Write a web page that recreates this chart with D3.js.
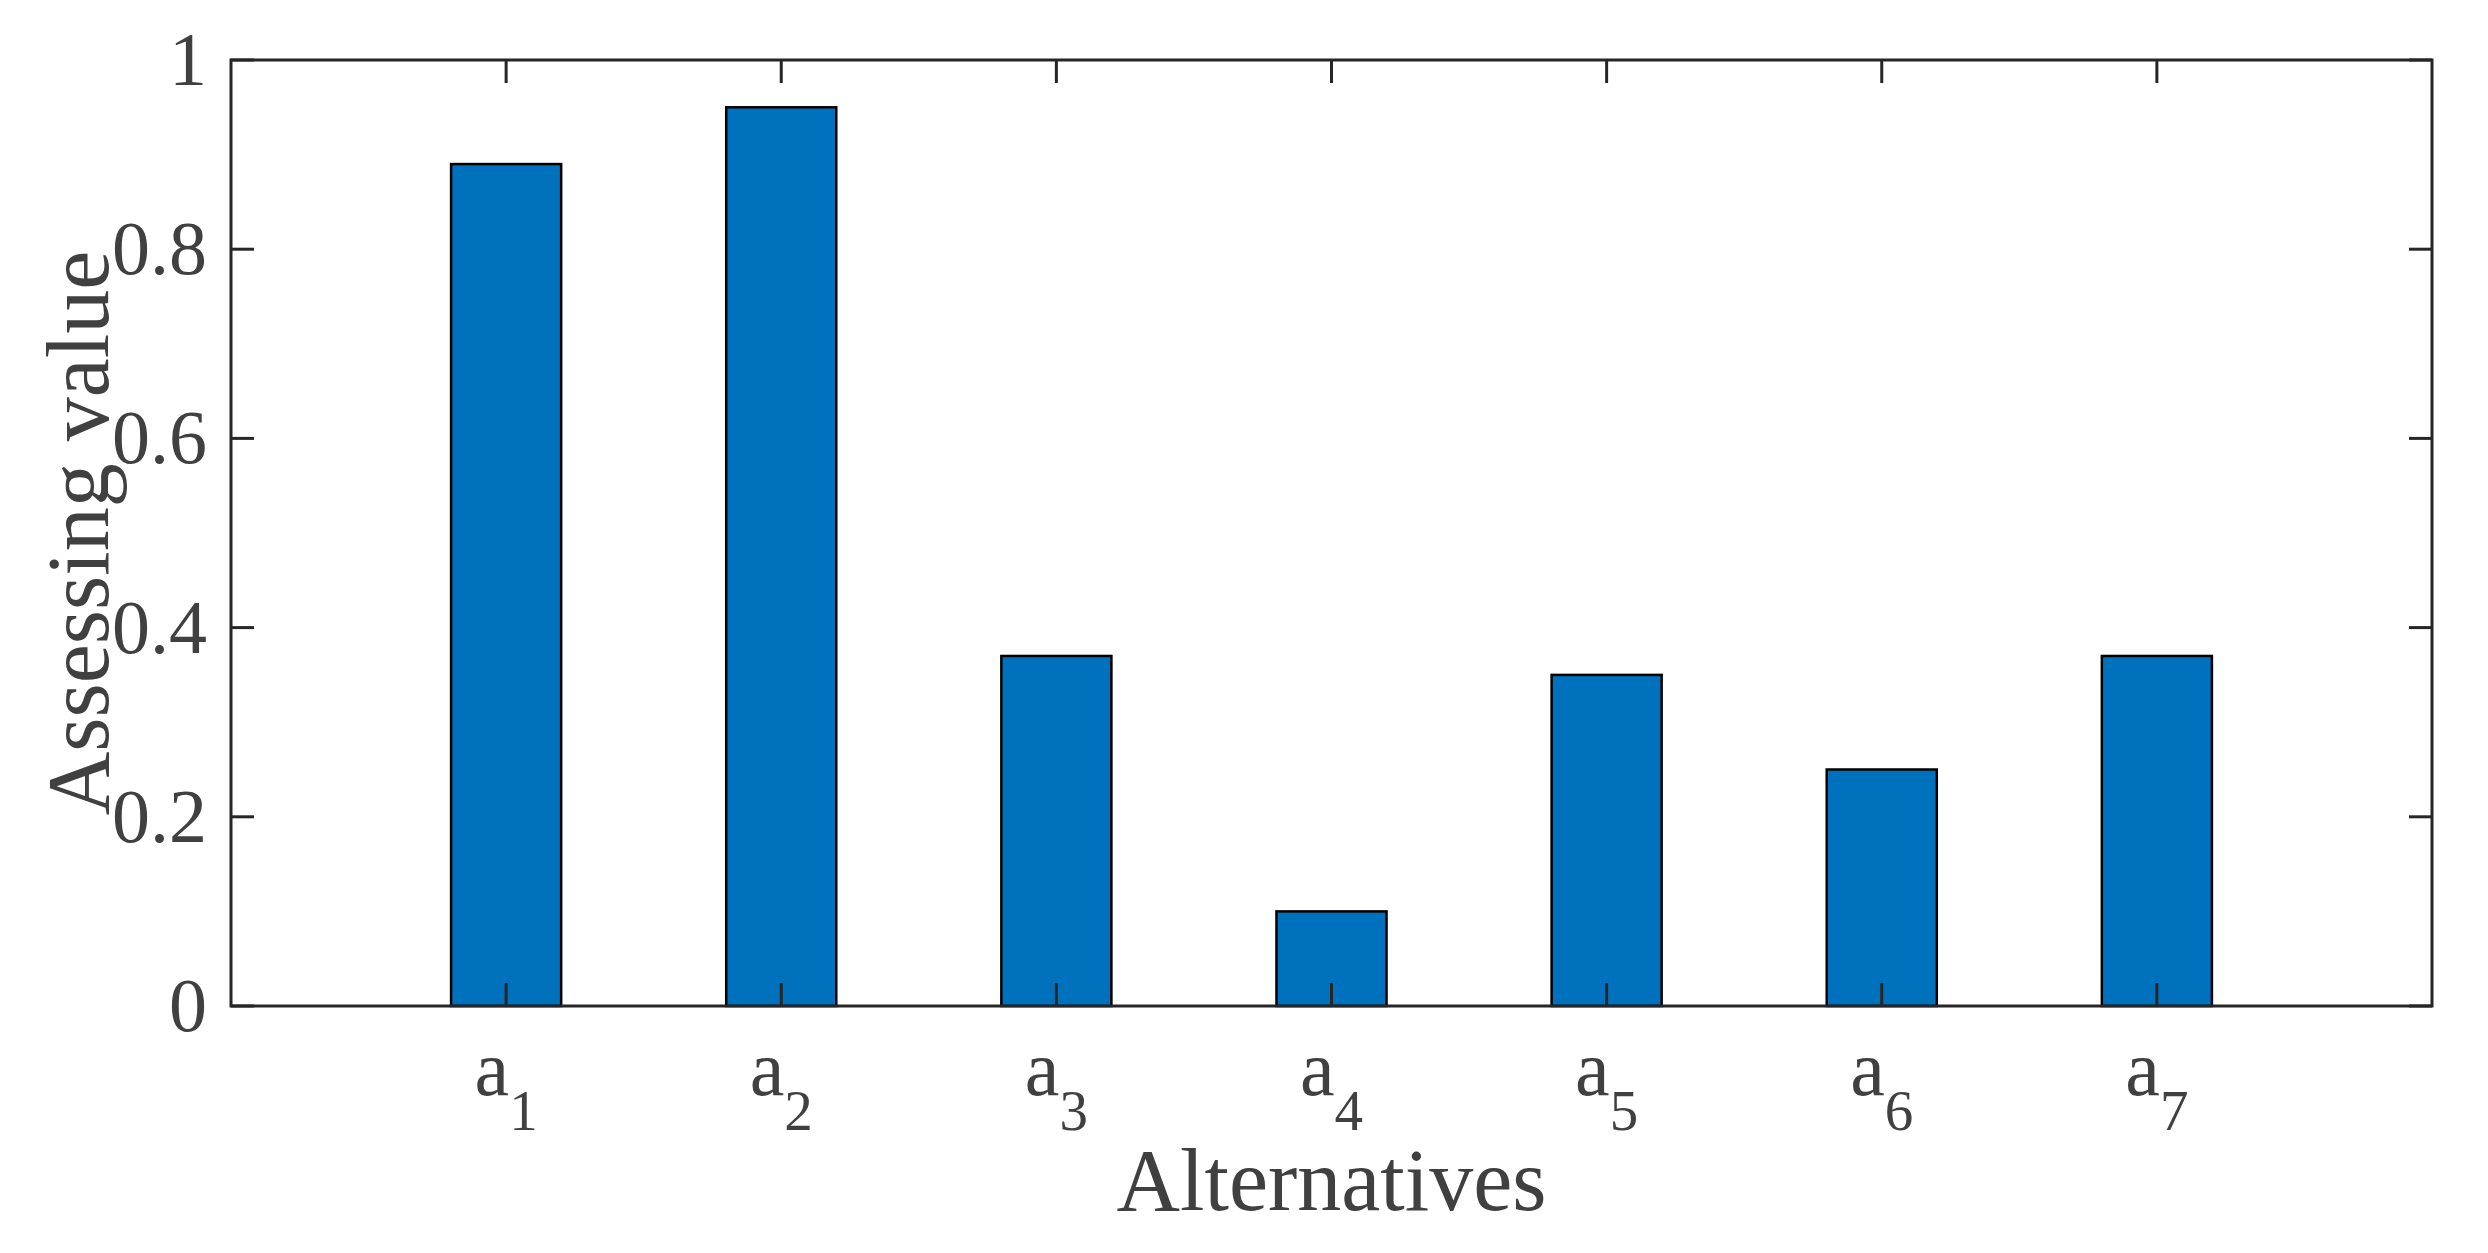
<!DOCTYPE html>
<html>
<head>
<meta charset="utf-8">
<script src="https://cdn.jsdelivr.net/npm/d3@7"></script>
<style>
  body { margin: 0; background: #fff; }
  text { font-family: "Liberation Serif", "Times New Roman", serif; fill: #404040; }
</style>
</head>
<body>
<div id="viz"></div>
<script>
const positions = [1, 2, 3, 4, 5, 6, 7];
const subscripts = ["1", "2", "3", "4", "5", "6", "7"];
const values = [0.89, 0.95, 0.37, 0.10, 0.35, 0.25, 0.37];
const yTicks = [0, 0.2, 0.4, 0.6, 0.8, 1];
const yTickLabels = ["0", "0.2", "0.4", "0.6", "0.8", "1"];

const W = 2488, H = 1253;
const margin = {top: 60, right: 56, bottom: 247, left: 231};
const width = W - margin.left - margin.right;
const height = H - margin.top - margin.bottom;

const svg = d3.select("#viz").append("svg")
  .attr("width", W)
  .attr("height", H);

const g = svg.append("g").attr("transform", `translate(${margin.left},${margin.top})`);

const x = d3.scaleLinear().domain([0, 8]).range([0, width]);
const y = d3.scaleLinear().domain([0, 1]).range([height, 0]);
const barW = x(0.4) - x(0);
const tickLen = 23;
const axisColor = "#262626";

// bars
g.selectAll("rect.bar")
  .data(values)
  .enter()
  .append("rect")
  .attr("class", "bar")
  .attr("x", (d, i) => x(positions[i]) - barW / 2)
  .attr("y", d => y(d))
  .attr("width", barW)
  .attr("height", d => y(0) - y(d))
  .attr("fill", "#0072BD")
  .attr("stroke", "#000")
  .attr("stroke-width", 2.5);

// ticks, inward on all four sides
positions.forEach(p => {
  g.append("line").attr("x1", x(p)).attr("x2", x(p)).attr("y1", height).attr("y2", height - tickLen)
    .attr("stroke", axisColor).attr("stroke-width", 3);
  g.append("line").attr("x1", x(p)).attr("x2", x(p)).attr("y1", 0).attr("y2", tickLen)
    .attr("stroke", axisColor).attr("stroke-width", 3);
});
yTicks.forEach(t => {
  g.append("line").attr("x1", 0).attr("x2", tickLen).attr("y1", y(t)).attr("y2", y(t))
    .attr("stroke", axisColor).attr("stroke-width", 3);
  g.append("line").attr("x1", width).attr("x2", width - tickLen).attr("y1", y(t)).attr("y2", y(t))
    .attr("stroke", axisColor).attr("stroke-width", 3);
});

// box
g.append("rect")
  .attr("x", 0).attr("y", 0)
  .attr("width", width).attr("height", height)
  .attr("fill", "none")
  .attr("stroke", axisColor)
  .attr("stroke-width", 3);

// y tick labels
g.selectAll("text.ytick")
  .data(yTicks)
  .enter()
  .append("text")
  .attr("class", "ytick")
  .attr("x", -24)
  .attr("y", d => y(d))
  .attr("dy", "0.33em")
  .attr("text-anchor", "end")
  .attr("font-size", 76)
  .text((d, i) => yTickLabels[i]);

// x tick labels a_i
const xl = g.selectAll("text.xtick")
  .data(positions)
  .enter()
  .append("text")
  .attr("class", "xtick")
  .attr("x", d => x(d))
  .attr("y", height + 89)
  .attr("text-anchor", "middle")
  .attr("font-size", 78);
xl.append("tspan").text("a");
xl.append("tspan").attr("font-size", 57).attr("dy", 35).text((d, i) => subscripts[i]);

// axis titles
g.append("text")
  .attr("x", width / 2)
  .attr("y", height + 204)
  .attr("text-anchor", "middle")
  .attr("font-size", 88)
  .text("Alternatives");

g.append("text")
  .attr("transform", `translate(${108 - margin.left},${height / 2}) rotate(-90)`)
  .attr("text-anchor", "middle")
  .attr("font-size", 88)
  .text("Assessing value");
</script>
</body>
</html>
